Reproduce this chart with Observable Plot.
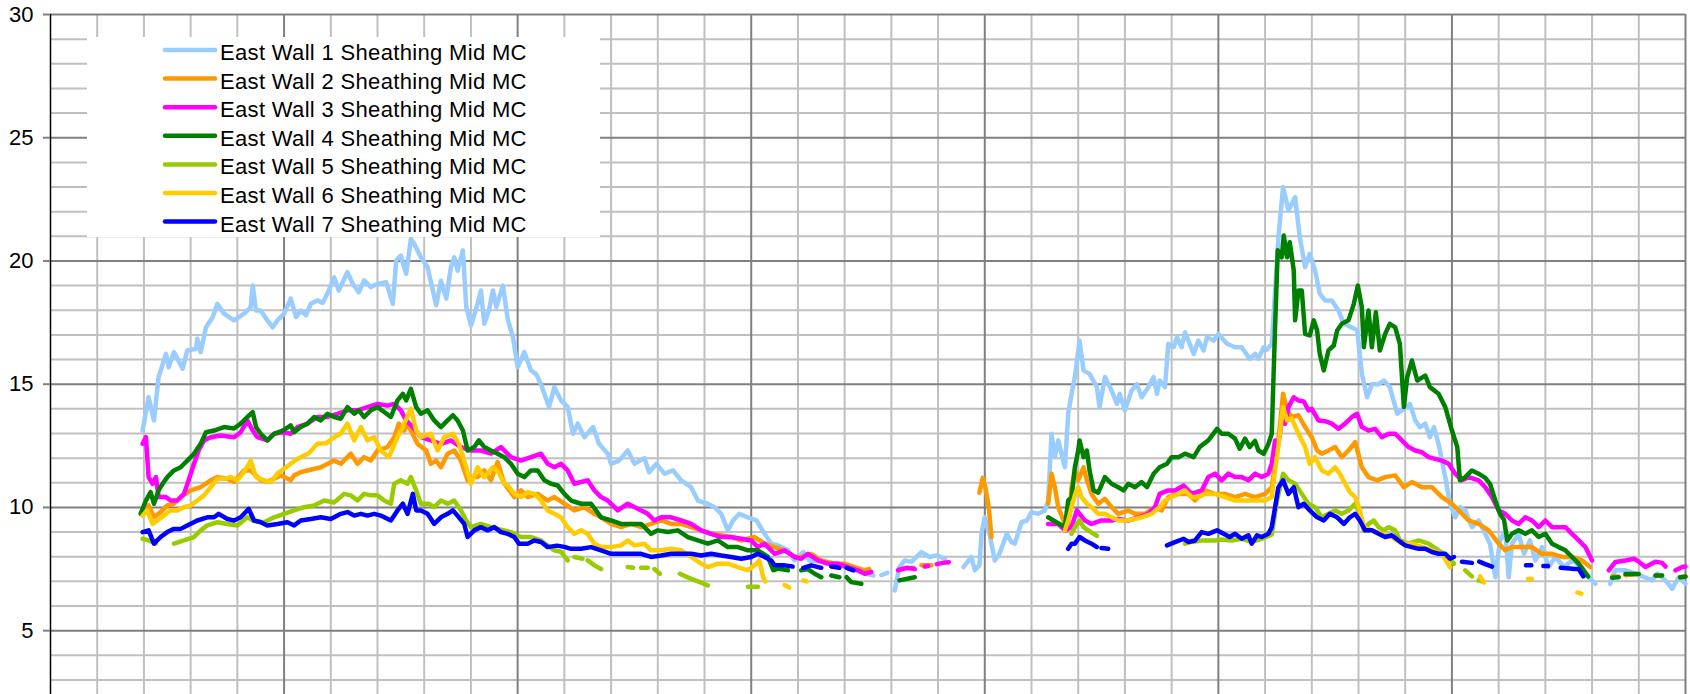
<!DOCTYPE html>
<html><head><meta charset="utf-8">
<script src="https://cdn.jsdelivr.net/npm/d3@7"></script>
<script src="https://cdn.jsdelivr.net/npm/@observablehq/plot@0.6"></script>
<style>
body{margin:0;background:#fff;}
#wrap{position:relative;width:1690px;height:694px;overflow:hidden;background:#fff;}
#legend{position:absolute;left:87px;top:37px;width:513px;height:200px;background:#fff;}
</style></head><body><div id="wrap"><div id="legend"></div></div>
<script>
const names = ["East Wall 1 Sheathing Mid MC","East Wall 2 Sheathing Mid MC","East Wall 3 Sheathing Mid MC","East Wall 4 Sheathing Mid MC","East Wall 5 Sheathing Mid MC","East Wall 6 Sheathing Mid MC","East Wall 7 Sheathing Mid MC"];
const colors = ["#99CCFF","#FF9900","#FF00FF","#008000","#99CC00","#FFCC00","#0000FF"];
const yMajor = [5,10,15,20,25,30];
const yMinor = [3,4,6,7,8,9,11,12,13,14,16,17,18,19,21,22,23,24,26,27,28,29];
const xMajor = [35,70,105,140,175,210,245];
const xMinor = [7,14,21,28,42,49,56,63,77,84,91,98,112,119,126,133,147,154,161,168,182,189,196,203,217,224,231,238];

const wall1 = [[13.8,13.12],[14.7,14.47],[15.5,13.53],[16.2,15.29],[17.3,16.23],[17.7,15.69],[18.5,16.3],[19.8,15.63],[20.5,16.37],[21.8,16.44],[22.0,16.84],[22.5,16.3],[23.3,17.31],[24.3,17.72],[25.0,18.26],[26.0,17.86],[27.5,17.59],[29.0,17.86],[30.0,18.13],[30.3,19.0],[30.8,17.99],[31.5,17.99],[32.5,17.59],[33.3,17.31],[34.0,17.59],[35.0,17.86],[36.0,18.47],[36.8,17.72],[37.5,17.99],[38.3,17.8],[39.0,18.26],[40.0,18.4],[40.8,18.3],[41.7,18.8],[42.5,19.34],[43.2,18.8],[44.5,19.55],[45.3,19.07],[46.2,18.73],[47.0,19.21],[48.0,18.94],[49.0,19.07],[50.3,19.14],[51.3,18.26],[51.8,20.02],[52.5,20.22],[53.3,19.48],[54.0,20.9],[54.5,20.7],[55.5,20.15],[56.5,19.75],[57.8,18.2],[58.5,19.2],[59.3,18.47],[60.0,19.75],[60.5,20.15],[61.0,19.6],[61.8,20.43],[62.3,18.13],[63.0,17.38],[64.0,18.26],[64.5,18.8],[65.0,17.45],[65.7,18.0],[66.3,18.8],[66.8,18.13],[67.8,19.0],[68.5,17.65],[69.3,16.9],[70.0,15.69],[71.0,16.3],[72.0,15.56],[72.8,15.4],[73.5,15.0],[74.7,14.07],[75.5,14.88],[76.5,14.34],[77.5,14.07],[78.3,12.99],[79.0,13.4],[80.0,12.85],[81.3,13.26],[82.2,12.58],[83.5,12.18],[84.0,11.77],[85.2,11.9],[86.5,12.31],[87.5,11.77],[89.0,12.0],[89.7,11.43],[90.8,11.77],[92.0,11.37],[93.3,11.5],[94.5,11.1],[96.0,10.82],[97.0,10.28],[98.5,10.15],[99.5,10.01],[100.5,9.74],[101.5,9.07],[102.3,9.47],[103.2,9.74],[104.5,9.6],[105.8,9.47],[107.0,8.93],[108.0,8.53],[109.0,8.46],[110.5,8.26],[111.5,7.85],[112.8,8.19],[113.7,7.85],[115.5,7.8],[117.5,7.72],[120.5,7.45],[123.3,7.24],[124,null],[124.5,7.25],[125.4,7.35],[126,null],[126.5,6.63],[127.2,7.58],[128.0,7.85],[129.0,7.79],[130.5,8.19],[131.7,7.99],[132.8,8.05],[134.0,7.92],[135,null],[136.8,7.58],[138.0,7.99],[138.5,7.45],[139.2,7.65],[139.5,8.93],[140.0,9.6],[140.7,8.93],[141.5,7.85],[142.2,8.12],[143.3,8.93],[144.0,8.59],[144.5,8.53],[145.5,9.4],[146.3,9.47],[147.0,9.81],[148.0,9.74],[149.0,9.88],[149.5,10.28],[150.0,12.99],[150.5,12.04],[151.0,12.72],[152.0,11.63],[152.5,13.8],[153.0,14.61],[153.5,15.29],[154.2,16.77],[154.8,15.56],[155.7,15.42],[156.8,14.88],[157.2,14.07],[158.0,15.29],[159.0,14.74],[159.8,14.2],[160.2,14.61],[161.0,13.94],[162.0,14.74],[162.8,15.0],[163.5,14.47],[164.5,14.88],[165.3,15.29],[165.8,14.61],[166.2,15.15],[167.0,14.88],[167.5,16.64],[168.3,16.5],[168.8,16.91],[169.5,16.5],[170.0,17.11],[171.3,16.23],[172.0,16.77],[172.8,16.37],[173.3,16.91],[174.3,16.77],[175.0,17.04],[176.3,16.64],[177.5,16.5],[178.5,16.5],[179.7,16.03],[180.5,16.23],[181.0,16.03],[181.8,16.5],[182.3,16.4],[183.0,16.64],[184.0,20.96],[184.7,23.0],[185.5,22.05],[186.5,22.59],[187.2,20.96],[188.0,19.75],[188.7,20.29],[189.5,19.61],[190.2,18.67],[191.0,18.4],[192.0,18.4],[193.0,17.99],[193.8,17.45],[195.0,17.3],[195.8,17.2],[196.5,15.42],[197.3,14.47],[198.0,15.0],[199.0,15.0],[199.8,15.15],[200.7,14.88],[201.8,13.8],[202.5,13.94],[203.7,14.2],[204.5,13.53],[205.2,13.26],[206.0,13.4],[206.7,12.85],[207.3,13.26],[208.0,12.58],[209.0,11.23],[209.7,10.15],[210.5,9.6],[211.2,10.01],[212.0,9.88],[213.0,9.2],[214.0,9.47],[215.0,8.93],[215.7,8.53],[216.5,7.17],[217.2,8.66],[218.0,9.07],[218.5,7.17],[219.0,8.53],[220.0,8.93],[220.8,8.12],[221.7,8.66],[222.5,7.85],[223.5,8.39],[224.5,7.58],[225.5,7.99],[226.8,7.58],[228.0,7.85],[229.5,7.58],[230.5,7.17],[231.5,6.9],[232.5,null],[233.7,6.9],[234.5,7.45],[236.0,7.45],[237.5,7.31],[238.8,7.17],[240.0,7.04],[240.8,7.31],[242.0,7.04],[243.0,6.7],[244.0,7.17],[245,6.9]];

const wall2 = [[14.0,9.88],[14.7,10.08],[15.5,9.6],[16.5,9.81],[17.5,10.08],[18.5,10.15],[19.5,10.42],[21.0,10.69],[22.5,10.82],[24.0,11.1],[25.0,11.23],[26.5,11.16],[27.5,11.03],[29.0,11.5],[30.0,11.5],[30.5,11.37],[31.5,11.1],[32.5,11.05],[33.5,11.16],[34.5,11.3],[36.0,11.1],[36.5,11.3],[37.5,11.43],[38.5,11.5],[40.5,11.63],[42.5,11.9],[43.5,11.77],[45.0,12.18],[46.0,11.77],[47.0,12.04],[48.0,11.9],[49.0,12.31],[50.5,12.45],[51.5,12.85],[52.2,13.4],[53.0,13.12],[53.5,13.4],[54.5,12.85],[55.0,12.58],[56.3,12.31],[57.0,11.77],[57.8,11.9],[58.5,11.63],[59.5,12.18],[60.5,12.31],[61.5,11.9],[62.5,11.1],[63.0,11.23],[64.0,11.23],[65.0,11.5],[66.0,11.1],[67.0,11.84],[68.0,10.96],[69.5,10.42],[70.5,10.69],[71.5,10.42],[73.0,10.55],[74.5,10.28],[75.5,10.42],[77.0,10.15],[78.5,9.88],[80.0,10.0],[81.5,9.74],[82.5,9.6],[84.0,9.33],[85.5,9.2],[87.0,9.33],[88.5,9.2],[90.0,9.33],[91.5,9.47],[93.0,9.33],[94.5,9.33],[96.0,9.2],[97.5,9.07],[99.0,8.93],[100.5,8.87],[102.0,8.8],[103.5,8.66],[105.5,8.8],[107.0,8.53],[108.5,8.39],[110.0,8.26],[111.5,7.99],[112.5,7.99],[114.0,8.12],[115.5,7.85],[117.5,7.72],[119.0,7.72],[120.5,7.58],[122.0,7.45],[122.7,7.5],[124,null],[127.2,7.5],[129.3,7.55],[129.9,null],[130.5,7.65],[132.0,7.65],[133,null],[139.2,10.6],[139.7,11.2],[140.1,10.8],[140.6,10.0],[141.0,8.8],[142,null],[149.5,10.15],[150.0,11.37],[150.5,10.82],[151.0,10.01],[151.8,9.47],[152.3,9.07],[152.7,9.74],[153.0,10.82],[153.5,11.5],[154.0,11.1],[154.8,11.63],[155.3,11.1],[156.0,10.55],[157.0,10.15],[158.0,10.35],[159.0,10.01],[160.0,9.74],[161.5,9.88],[162.5,9.74],[164.0,9.74],[165.5,10.01],[166.5,9.88],[167.5,10.42],[169.0,10.55],[170.5,10.55],[171.5,10.28],[173.0,10.69],[174.5,10.55],[176.0,10.55],[177.5,10.42],[179.0,10.55],[180.5,10.42],[182.0,10.55],[183.0,10.82],[184.0,12.72],[184.7,14.61],[185.3,13.94],[186.0,13.67],[187.0,13.74],[188.0,13.26],[189.0,12.85],[189.8,12.31],[190.5,12.18],[191.5,12.31],[192.5,12.45],[193.5,12.04],[194.5,12.31],[195.5,12.65],[196.5,11.63],[197.5,11.23],[198.8,11.1],[200.0,11.23],[201.5,11.3],[202.8,10.82],[204.0,11.03],[205.5,10.82],[207.0,10.82],[208.5,10.42],[210.0,10.15],[211.0,9.88],[212.5,9.47],[214.0,9.33],[215.5,9.07],[217.0,8.53],[218.0,8.26],[219.0,8.39],[220.5,8.39],[222.0,8.39],[223.5,8.12],[225.0,8.12],[226.5,7.99],[228.0,7.99],[229.5,7.85],[230.7,7.58],[232,null],[234.0,7.2],[234.9,7.2],[235.5,null],[236.0,7.25],[237.8,7.3],[239,null],[240.5,7.24],[241.4,7.24],[242.5,null],[244.2,7.15],[245,7.2]];

const wall3 = [[13.8,12.58],[14.3,12.85],[14.7,11.23],[15.3,10.96],[15.8,11.23],[16.2,10.42],[17.3,10.42],[18.0,10.28],[19.0,10.28],[20.0,10.55],[20.7,11.1],[21.5,11.77],[22.2,12.31],[23.0,12.72],[24.0,12.85],[25.5,12.92],[27.5,12.85],[28.5,13.05],[29.5,13.53],[30.3,13.12],[31.0,12.85],[32.5,12.72],[33.5,12.99],[34.8,13.05],[36.0,12.99],[37.0,13.26],[38.5,13.4],[40.0,13.67],[41.5,13.67],[43.0,13.8],[44.5,13.94],[46.0,13.94],[47.5,14.07],[49.0,14.2],[50.5,14.13],[51.5,14.2],[52.5,13.94],[53.3,13.53],[54.3,13.26],[55.5,12.85],[57.0,12.72],[58.5,12.58],[60.0,12.72],[61.5,12.45],[63.0,12.31],[64.5,12.31],[66.0,12.18],[67.5,12.45],[69.0,12.04],[70.5,11.9],[72.0,12.04],[73.5,12.18],[74.5,11.77],[75.5,11.63],[76.5,11.77],[77.5,11.5],[78.5,10.96],[79.5,11.03],[80.5,11.1],[81.5,10.69],[82.5,10.42],[83.5,10.28],[85.0,9.88],[86.5,10.15],[88.0,9.95],[89.5,9.74],[90.5,9.47],[91.5,9.6],[93.0,9.6],[94.5,9.47],[96.0,9.33],[97.5,9.07],[99.0,8.93],[100.5,8.8],[102.0,8.8],[103.5,8.73],[105.0,8.66],[106.0,8.39],[107.0,8.53],[108.5,8.12],[110.0,8.26],[111.5,7.99],[112.5,7.92],[113.5,8.12],[115.0,7.85],[116.5,7.72],[118.0,7.72],[119.5,7.58],[121.0,7.45],[122.0,7.31],[123.0,7.38],[124,null],[127.0,7.45],[128.3,7.55],[129.5,7.5],[130.2,null],[131.0,7.6],[131.5,7.62],[132.2,null],[132.8,7.7],[133.7,7.75],[134.6,7.78],[136,null],[149.5,9.33],[151.0,9.33],[152.0,9.07],[153.0,9.2],[153.8,9.88],[154.2,9.74],[155.0,9.47],[156.0,9.33],[157.5,9.47],[159.0,9.47],[160.0,9.53],[161.5,9.47],[163.0,9.6],[164.5,9.74],[165.5,10.01],[166.2,10.55],[167.5,10.69],[168.5,10.69],[169.8,10.89],[171.0,10.55],[172.5,10.69],[173.5,11.23],[174.5,11.37],[175.5,11.1],[176.5,11.37],[177.5,11.23],[178.5,11.23],[179.5,11.1],[180.5,11.37],[181.5,11.23],[182.5,11.37],[183.0,11.77],[183.5,12.72],[184.0,12.6],[184.5,13.5],[185.0,13.4],[185.5,14.07],[186.3,14.47],[187.0,14.34],[187.8,14.3],[188.5,13.94],[189.0,14.0],[190.0,13.53],[191.0,13.5],[192.0,13.4],[193.0,13.19],[194.0,13.4],[195.0,13.67],[195.8,13.8],[196.5,13.26],[197.5,13.12],[198.5,13.19],[199.5,12.85],[200.5,12.99],[201.5,12.99],[202.5,12.72],[203.5,12.45],[204.5,12.31],[205.5,12.24],[206.5,12.04],[207.5,11.97],[208.5,11.9],[209.5,11.77],[210.5,11.37],[211.5,11.1],[212.5,11.23],[214.0,11.1],[215.0,10.82],[216.0,10.42],[217.0,9.88],[218.0,9.74],[219.0,9.47],[220.0,9.33],[221.0,9.6],[222.0,9.47],[223.0,9.2],[224.0,9.47],[225.0,9.2],[226.0,9.2],[227.0,9.2],[228.0,8.93],[229.0,8.66],[230.0,8.39],[231.0,7.85],[232,null],[233.5,7.45],[234.5,7.79],[236.0,7.85],[237.3,7.92],[238.0,7.8],[239.0,7.58],[240.5,7.8],[241.5,7.75],[242.0,7.6],[242.8,null],[243.5,7.45],[244.5,7.58],[245,7.6]];

const wall4 = [[13.5,9.74],[14.3,10.28],[15.0,10.62],[15.5,10.15],[16.2,10.69],[16.8,10.96],[17.5,11.23],[18.5,11.5],[19.5,11.63],[20.5,11.9],[21.5,12.18],[22.5,12.58],[23.3,13.05],[24.5,13.12],[26.0,13.26],[27.5,13.2],[28.5,13.4],[29.5,13.67],[30.3,13.87],[30.8,13.26],[31.5,12.99],[32.5,12.72],[33.5,12.99],[34.8,13.12],[36.0,13.33],[36.5,13.05],[37.5,13.26],[38.5,13.4],[39.5,13.67],[40.5,13.53],[41.5,13.8],[42.5,13.67],[43.5,13.6],[44.5,14.07],[45.5,13.8],[46.2,13.94],[47.0,13.67],[48.0,13.94],[49.0,14.07],[50.0,13.87],[51.0,13.67],[52.0,14.34],[52.8,14.61],[53.3,14.34],[54.0,14.81],[54.8,14.07],[55.5,13.8],[56.5,13.94],[57.5,13.53],[58.5,13.26],[59.5,13.53],[60.3,13.74],[61.0,13.53],[61.8,13.12],[62.5,12.31],[63.5,12.45],[64.2,12.72],[65.0,12.45],[66.0,12.31],[67.0,12.18],[68.0,12.04],[69.0,11.77],[70.0,11.37],[71.0,11.23],[72.0,11.5],[73.0,11.5],[74.0,11.1],[75.0,10.96],[76.0,10.89],[77.0,10.55],[78.0,10.28],[79.5,10.15],[81.0,10.15],[82.5,9.6],[84.0,9.47],[85.5,9.33],[87.0,9.33],[88.5,9.33],[90.0,8.93],[91.0,9.07],[92.5,9.0],[94.0,9.07],[95.5,8.8],[97.0,8.66],[98.5,8.53],[100.0,8.66],[101.5,8.39],[103.0,8.39],[104.5,8.26],[106.0,8.26],[107.5,7.99],[108.3,7.45],[109.0,7.52],[110.5,7.45],[111.2,null],[112.5,7.45],[113.5,7.5],[114.5,7.31],[115.5,7.17],[116.2,null],[117.0,7.24],[118.2,7.17],[118.8,null],[119.3,7.17],[120.0,6.97],[121.5,6.9],[123,null],[127.2,7.04],[129.5,7.17],[130,null],[149.5,9.6],[150.3,9.47],[151.2,9.33],[152.0,9.2],[152.5,10.28],[153.0,10.4],[153.5,11.63],[154.0,12.31],[154.2,12.72],[154.8,12.04],[155.3,12.31],[155.7,11.5],[156.3,10.69],[157.0,10.6],[158.0,11.23],[159.0,10.96],[160.0,10.82],[160.8,10.69],[161.5,10.96],[162.5,10.82],[163.5,11.03],[164.3,10.82],[165.3,11.37],[166.2,11.63],[167.3,11.77],[168.0,12.04],[169.0,12.04],[170.0,12.18],[171.3,12.04],[172.2,12.45],[173.5,12.72],[174.8,13.19],[175.5,12.99],[176.5,12.99],[177.5,12.79],[178.2,12.38],[179.0,12.79],[179.7,12.45],[180.5,12.7],[181.0,12.31],[181.8,12.18],[182.5,12.58],[183.0,12.99],[183.5,17.31],[183.9,20.43],[184.5,20.15],[184.8,21.03],[185.3,20.15],[185.7,20.76],[186.3,19.61],[186.5,17.59],[187.0,18.8],[187.5,18.8],[188.0,17.04],[188.7,16.98],[189.3,17.59],[189.8,17.18],[190.2,16.23],[190.8,15.56],[191.5,16.37],[192.3,16.57],[192.8,17.18],[193.5,17.45],[194.5,17.59],[195.3,18.26],[195.9,19.0],[196.5,18.13],[196.8,16.5],[197.5,17.99],[198.0,16.5],[198.6,17.92],[199.2,16.37],[200.0,17.04],[200.7,17.45],[201.5,17.31],[202.2,16.64],[202.8,14.07],[203.3,15.29],[204.0,15.96],[204.8,15.15],[206.0,15.35],[206.7,14.88],[208.0,14.61],[209.0,14.07],[209.5,13.6],[210.0,13.12],[210.8,12.45],[211.2,11.1],[212.0,11.23],[213.0,11.5],[214.0,11.37],[215.0,11.2],[215.7,10.96],[216.5,10.28],[217.2,9.74],[217.8,9.5],[218.3,8.66],[219.0,8.93],[220.0,9.07],[221.0,8.93],[222.0,9.07],[223.0,8.8],[224.0,8.93],[225.0,8.53],[226.0,8.39],[227.0,8.26],[228.0,7.99],[229.0,7.72],[229.7,7.45],[230.4,7.2],[232,null],[234.0,7.15],[235.0,7.17],[235.5,null],[236.0,7.3],[238.0,7.3],[239,null],[240.5,7.24],[241.5,7.24],[242.5,null],[244.2,7.17],[245,7.2]];

const wall5 = [[13.8,8.73],[14.7,8.66],[15.8,8.53],[16.5,null],[18.5,8.53],[20.0,8.66],[21.5,8.8],[22.5,9.07],[23.5,9.27],[25.0,9.4],[26.5,9.33],[28.0,9.27],[29.5,9.6],[30.5,9.45],[32.0,9.4],[33.5,9.6],[35.0,9.74],[36.5,9.88],[38.0,10.01],[39.5,10.08],[41.0,10.28],[42.5,10.2],[44.0,10.55],[45.0,10.49],[46.0,10.28],[47.0,10.55],[48.0,10.49],[49.0,10.49],[50.0,10.28],[51.0,10.15],[51.5,10.96],[52.5,11.1],[53.5,10.96],[54.0,11.23],[54.8,10.69],[55.5,10.15],[56.7,10.15],[57.5,10.01],[58.5,10.28],[59.5,10.15],[60.5,10.28],[61.5,9.88],[62.3,9.47],[63.0,9.2],[64.5,9.33],[66.0,9.2],[67.5,9.1],[69.0,9.0],[70.5,8.8],[72.0,8.8],[73.5,8.66],[74.5,8.45],[75.5,8.26],[76.5,8.2],[77.5,7.85],[78.0,null],[78.5,7.99],[79.7,7.92],[80.2,null],[80.5,7.85],[81.5,7.65],[82.5,7.5],[84.0,null],[86.5,7.58],[87.3,7.55],[88.0,null],[88.5,7.55],[89.5,7.55],[90.0,null],[90.5,7.5],[91.3,7.31],[93.0,null],[94.3,7.31],[96.0,7.1],[97.5,6.95],[98.5,6.84],[100,null],[104.5,6.78],[106.0,6.78],[108,null],[153.0,8.93],[153.5,9.2],[154.2,9.47],[154.8,9.2],[155.5,9.07],[156.3,8.93],[156.8,8.85],[158,null],[170.0,8.53],[171.0,8.6],[172.5,8.66],[174.5,8.66],[175.5,8.7],[177.0,8.66],[178.5,8.73],[180.0,8.6],[181.5,8.73],[183.0,8.9],[183.8,10.28],[184.7,11.37],[185.5,11.1],[186.5,10.96],[187.5,10.55],[188.5,10.15],[189.5,10.01],[190.5,9.6],[191.5,9.74],[192.5,9.88],[193.5,9.74],[194.5,9.88],[195.5,10.15],[196.2,9.74],[196.8,9.07],[197.5,9.33],[198.3,9.47],[199.0,9.2],[199.8,9.07],[200.5,9.2],[201.5,9.07],[202.2,8.66],[203.5,8.53],[205.0,8.66],[206.5,8.53],[208.0,8.26],[209.5,7.99],[210.3,7.72],[211,null],[212.0,7.45],[213.0,7.2],[213.5,null],[214.0,7.04],[214.5,7.0],[215,null]];

const wall6 = [[13.8,9.67],[14.5,9.88],[15.3,9.33],[16.0,9.47],[17.0,9.67],[18.0,9.88],[19.0,9.88],[20.0,10.01],[21.0,10.08],[22.0,10.28],[23.0,10.49],[24.0,10.82],[25.0,11.16],[26.0,11.16],[27.0,11.23],[28.0,11.1],[29.0,11.43],[30.0,11.9],[30.8,11.23],[32.0,11.1],[33.0,11.03],[34.0,11.37],[35.0,11.57],[36.0,11.77],[37.0,11.97],[37.5,12.04],[38.7,12.2],[40.0,12.58],[41.3,12.6],[42.5,12.85],[43.5,13.0],[44.5,13.4],[45.5,12.72],[46.5,13.26],[47.5,12.72],[48.5,12.85],[49.5,12.31],[50.7,12.04],[52.0,12.85],[53.0,13.4],[54.0,14.0],[54.8,13.12],[55.5,12.85],[57.0,12.99],[58.0,12.31],[59.0,12.85],[60.3,12.99],[61.2,12.58],[62.0,11.9],[63.0,10.96],[64.0,11.63],[65.0,11.23],[66.3,11.63],[67.2,11.4],[68.0,10.96],[68.5,10.9],[69.5,10.55],[70.5,10.42],[71.5,10.62],[72.5,10.55],[73.5,10.28],[74.5,9.88],[75.5,9.74],[76.5,9.6],[77.5,9.2],[78.5,8.93],[79.5,9.07],[80.5,8.93],[81.5,8.53],[82.5,8.39],[84.0,8.39],[85.5,8.46],[86.5,8.66],[87.5,8.46],[89.0,8.53],[90.0,8.26],[91.5,8.26],[93.0,8.32],[94.5,8.26],[96.0,7.99],[97.5,7.72],[98.5,7.58],[100.0,7.72],[101.5,7.72],[103.0,7.58],[104.5,7.45],[105.8,7.72],[106.2,7.85],[106.8,7.17],[107.1,7.0],[108,null],[110.0,6.85],[110.7,6.75],[111,null],[112.8,7.04],[113.3,7.0],[114,null],[152.0,9.07],[152.5,9.47],[153.0,10.01],[153.5,10.5],[154.0,10.82],[154.5,10.42],[155.3,10.15],[156.0,10.01],[157.0,9.74],[158.0,9.74],[159.0,9.6],[160.0,9.47],[161.0,9.47],[162.5,9.53],[163.5,9.6],[165.0,9.74],[166.2,10.01],[167.0,10.28],[168.0,10.42],[169.0,10.55],[170.0,10.69],[171.0,10.42],[172.0,10.42],[173.0,10.55],[174.5,10.55],[176.0,10.42],[177.5,10.28],[179.0,10.28],[180.5,10.28],[182.0,10.28],[183.0,10.42],[183.5,11.5],[184.0,12.5],[184.5,13.67],[184.7,14.07],[185.3,13.53],[186.0,13.6],[187.0,12.99],[188.0,12.45],[188.7,11.77],[189.5,12.04],[190.5,11.5],[191.5,11.37],[192.5,11.63],[193.2,11.37],[194.0,10.96],[194.7,10.62],[195.5,10.42],[196.2,9.88],[196.8,9.2],[198.0,9.07],[199.5,8.93],[201.0,8.8],[202.5,8.53],[204.0,8.53],[205.5,8.39],[207.0,8.26],[208.5,8.12],[209.7,7.58],[211,null],[214.2,7.2],[214.8,6.95],[216,null],[221.4,7.1],[222.0,7.1],[223,null],[228.8,6.55],[229.4,6.5],[230,null]];

const wall7 = [[13.8,9.0],[14.7,9.07],[15.5,8.53],[16.5,8.8],[17.5,9.0],[18.5,9.13],[19.5,9.13],[20.5,9.27],[22.0,9.47],[23.5,9.6],[24.5,9.6],[25.2,9.74],[26.5,9.53],[27.5,9.47],[28.5,9.6],[29.7,9.94],[30.5,9.47],[31.5,9.4],[32.5,9.27],[34.0,9.33],[35.5,9.4],[36.5,9.27],[37.5,9.47],[39.0,9.53],[40.5,9.6],[42.0,9.53],[43.5,9.74],[44.5,9.81],[45.5,9.67],[46.5,9.74],[47.5,9.67],[48.5,9.74],[49.5,9.67],[51.0,9.47],[52.0,9.88],[52.8,10.15],[53.5,9.74],[54.3,10.55],[54.8,9.88],[55.5,9.88],[56.5,9.74],[57.5,9.33],[58.5,9.6],[59.5,9.74],[60.3,9.88],[61.2,9.6],[62.0,9.33],[62.5,8.8],[63.5,9.07],[64.5,9.2],[65.5,9.07],[66.5,9.2],[67.5,9.0],[68.5,8.93],[69.5,8.8],[70.2,8.53],[71.5,8.53],[72.5,8.66],[73.5,8.6],[74.5,8.39],[75.9,8.45],[77.0,8.4],[78.0,8.32],[79.5,8.32],[81.0,8.39],[82.5,8.26],[84.0,8.12],[85.5,8.12],[87.0,8.12],[88.5,8.12],[90.0,7.99],[91.5,8.05],[93.0,8.12],[94.5,8.12],[96.0,8.12],[97.5,8.05],[99.0,8.12],[100.5,8.05],[102.0,7.99],[103.5,7.92],[105.0,7.99],[106.0,8.12],[107.0,7.99],[108.0,7.85],[108.5,7.65],[110.0,7.65],[111.2,7.6],[112,null],[112.8,7.55],[114.0,7.65],[115.5,7.55],[116.2,null],[117.0,7.6],[118.2,7.55],[118.8,null],[119.3,7.55],[120.3,7.45],[121,null],[152.5,8.32],[153.0,8.53],[153.5,8.53],[154.2,8.8],[155.0,8.66],[156.0,8.53],[156.8,8.39],[157.2,null],[157.5,8.35],[158.5,8.32],[159,null],[167.3,8.46],[168.5,8.59],[169.8,8.73],[170.5,8.6],[171.5,8.66],[172.5,9.0],[173.5,8.93],[174.8,9.07],[175.8,8.93],[176.7,8.8],[177.5,8.93],[178.5,8.73],[179.5,8.87],[180.0,8.53],[180.8,8.87],[181.5,8.8],[182.5,8.93],[183.0,9.2],[183.5,10.01],[184.0,10.82],[184.7,11.1],[185.5,10.55],[186.3,10.82],[187.0,10.01],[187.8,10.15],[188.7,9.88],[189.8,9.6],[190.8,9.47],[191.7,9.74],[192.8,9.6],[193.8,9.33],[194.7,9.6],[195.5,9.74],[196.2,9.47],[197.0,9.07],[198.0,9.07],[199.0,8.93],[200.0,8.8],[201.0,8.87],[202.0,8.66],[203.0,8.46],[204.0,8.39],[205.0,8.32],[206.0,8.32],[207.0,8.19],[208.0,8.12],[209.0,8.12],[209.7,7.92],[210.3,7.99],[211,null],[211.5,7.8],[213.0,7.75],[213.6,null],[214.1,7.8],[215.0,7.7],[216.0,7.6],[217,null],[221.1,7.65],[221.9,7.65],[222.5,null],[223.7,7.62],[224.4,7.62],[225,null],[226.3,7.55],[228.5,7.5],[229.0,7.5],[229.7,7.2],[230.5,null]];

const series = [wall1, wall2, wall3, wall4, wall5, wall6, wall7];

const lineMarks = series.map((s, i) => Plot.line(
  s.map(([day, mc]) => ({day, mc})),
  {x: "day", y: "mc", stroke: colors[i], strokeWidth: 4.5, strokeLinejoin: "round", strokeLinecap: "round"}
));

const chart = Plot.plot({
  width: 1690, height: 694,
  marginLeft: 50, marginRight: 5, marginTop: 14, marginBottom: 0,
  x: {domain: [0, 245], axis: null},
  y: {domain: [2.41, 30], axis: null},
  style: {fontFamily: "Arial, 'Liberation Sans', sans-serif", fontSize: "22px", color: "#000", background: "#fff"},
  marks: [
    Plot.ruleY(yMinor, {stroke: "#c0c0c0", strokeWidth: 2}),
    Plot.ruleX(xMinor, {stroke: "#c0c0c0", strokeWidth: 2}),
    Plot.ruleY(yMajor, {stroke: "#808080", strokeWidth: 2}),
    Plot.ruleX(xMajor, {stroke: "#808080", strokeWidth: 2}),
    ...lineMarks,
    Plot.ruleX([0], {stroke: "#000", strokeWidth: 1.5}),
    Plot.axisY({ticks: yMajor, tickSize: 7, tickPadding: 10, stroke: "#808080", strokeWidth: 2, fill: "#000", fontSize: 22, label: null, tickFormat: d => String(d)})
  ]
});
const wrap = document.getElementById("wrap");
wrap.insertBefore(chart, wrap.firstChild);

// legend overlay
const ns = "http://www.w3.org/2000/svg";
const lg = document.createElementNS(ns, "svg");
lg.setAttribute("width", 513); lg.setAttribute("height", 200);
lg.style.fontFamily = "Arial, 'Liberation Sans', sans-serif";
names.forEach((n, i) => {
  const cy = 13 + 28.6 * i;
  const l = document.createElementNS(ns, "line");
  l.setAttribute("x1", 78); l.setAttribute("x2", 128);
  l.setAttribute("y1", cy); l.setAttribute("y2", cy);
  l.setAttribute("stroke", colors[i]); l.setAttribute("stroke-width", 4.5);
  l.setAttribute("stroke-linecap", "round");
  lg.appendChild(l);
  const t = document.createElementNS(ns, "text");
  t.setAttribute("x", 133); t.setAttribute("y", cy + 10);
  t.setAttribute("font-size", 22); t.setAttribute("fill", "#000");
  t.setAttribute("letter-spacing", "0.33");
  t.textContent = n;
  lg.appendChild(t);
});
document.getElementById("legend").appendChild(lg);
</script>
</body></html>
